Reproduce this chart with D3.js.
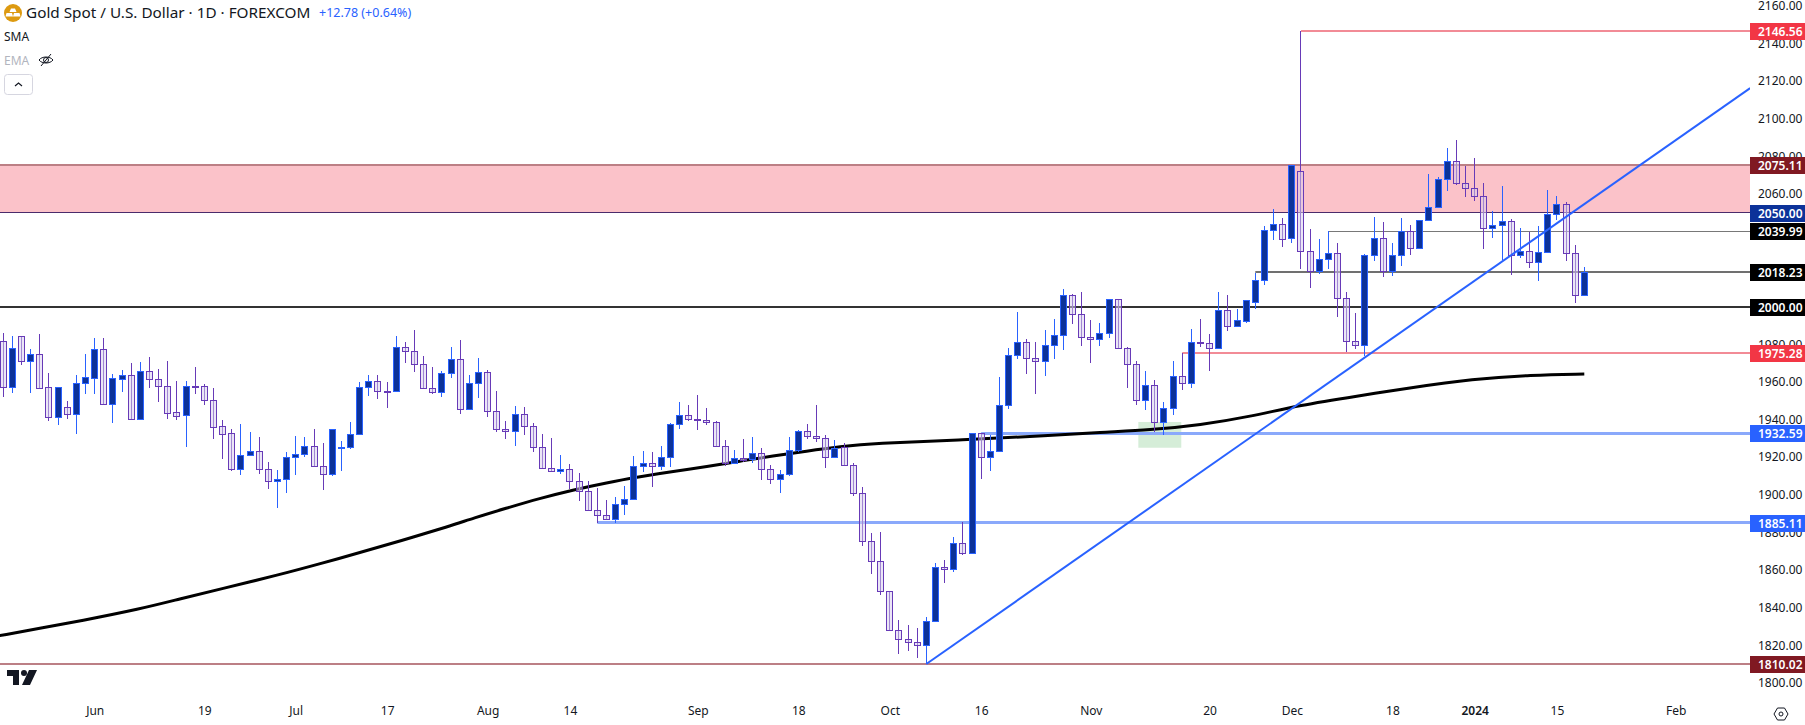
<!DOCTYPE html>
<html>
<head>
<meta charset="utf-8">
<title>Gold Spot / U.S. Dollar</title>
<script src="https://cdn.jsdelivr.net/npm/d3@7"></script>
<style>
html,body{margin:0;padding:0;background:#fff;overflow:hidden}
svg{display:block}
text{font-family:"Noto Sans","Open Sans",sans-serif}
</style>
</head>
<body>
<svg id="chart" width="1805" height="725"></svg>
<script>
const opens = [1981.5,1957.4,1984.2,1971.2,1975.1,1957.1,1941.1,1946.4,1943.1,1959.2,
1962.2,1977.3,1948.0,1961.7,1963.5,1940.1,1965.6,1961.3,1957.6,1943.8,
1942.2,1957.6,1957.6,1950.2,1936.3,1932.6,1913.8,1920.9,1923.1,1913.5,
1907.1,1908.2,1919.9,1921.5,1925.7,1915.1,1910.8,1925.0,1925.2,1932.1,
1957.1,1960.3,1954.9,1954.9,1978.3,1976.2,1969.3,1956.5,1954.4,1964.5,
1972.0,1945.4,1959.2,1965.0,1944.3,1934.7,1933.7,1942.7,1936.3,1925.2,
1914.0,1912.4,1913.5,1907.1,1901.8,1891.7,1889.0,1886.9,1894.9,1897.5,
1915.1,1916.7,1915.1,1919.9,1937.4,1942.2,1940.1,1939.5,1938.5,1925.7,
1916.7,1919.3,1918.8,1922.0,1913.5,1908.2,1910.8,1923.6,1933.7,1931.0,
1930.0,1919.9,1925.2,1915.6,1900.7,1875.2,1864.6,1848.6,1827.9,1823.1,
1821.5,1819.9,1832.7,1861.4,1860.3,1874.1,1868.8,1932.6,1919.9,1923.0,
1947.5,1974.1,1981.0,1972.5,1970.9,1979.4,1984.7,2006.0,1995.9,1983.7,
1982.6,1985.8,2003.9,1977.8,1969.3,1950.2,1958.2,1938.8,1945.9,1962.9,
1959.2,1981.0,1980.5,1977.8,1998.0,1989.5,1992.2,2002.3,2014.0,2040.6,
2043.8,2036.3,2072.0,2029.4,2019.2,2025.2,2028.4,2004.4,1981.6,1979.5,
2027.3,2036.3,2019.2,2027.3,2040.1,2031.0,2045.9,2052.8,2067.7,2077.2,
2065.5,2062.9,2058.6,2041.6,2043.2,2045.3,2027.6,2029.8,2023.9,2028.9,
2049.2,2054.4,2028.3,2006.0];
const highs = [1986.1,1984.4,1984.4,1977.3,1985.4,1964.5,1957.1,1949.6,1963.6,1974.8,
1983.3,1983.3,1964.0,1966.3,1969.8,1970.5,1973.2,1966.8,1971.1,1960.4,
1960.4,1967.9,1958.8,1956.7,1939.7,1934.7,1937.6,1933.3,1930.7,1917.2,
1913.1,1922.5,1931.2,1930.7,1934.9,1927.5,1934.7,1928.5,1938.6,1959.9,
1963.6,1963.6,1959.9,1984.4,1981.2,1987.6,1973.7,1967.9,1965.8,1978.5,
1982.2,1963.6,1972.7,1966.3,1955.1,1939.2,1947.0,1946.6,1938.1,1932.3,
1930.1,1921.1,1916.3,1911.5,1907.1,1903.6,1897.2,1898.8,1904.6,1920.6,
1923.2,1922.5,1925.9,1938.1,1949.3,1947.7,1953.0,1946.1,1939.0,1929.1,
1923.8,1929.6,1930.7,1924.6,1915.8,1913.1,1930.7,1934.4,1937.6,1947.7,
1931.7,1929.1,1927.3,1916.7,1904.1,1879.6,1880.2,1848.6,1833.4,1830.7,
1829.1,1835.0,1863.5,1865.3,1877.5,1885.5,1932.6,1932.6,1931.7,1962.6,
1978.0,1997.1,1982.8,1981.2,1987.6,1993.4,2009.3,2006.7,2007.8,1992.9,
1991.3,2003.9,2003.9,1978.3,1971.1,1965.8,1961.0,1949.3,1971.1,1975.3,
1988.1,1993.4,1985.4,2007.8,2006.2,1998.7,2003.4,2018.1,2042.9,2051.9,
2047.0,2075.1,2146.56,2041.3,2036.0,2040.2,2033.9,2007.8,1996.6,2027.8,
2047.7,2045.0,2033.9,2047.2,2043.4,2045.9,2070.5,2068.8,2084.3,2088.6,
2074.8,2079.0,2065.7,2050.8,2064.1,2046.6,2041.8,2039.9,2042.9,2062.0,
2058.8,2055.6,2032.8,2021.1];
const lows = [1952.1,1954.2,1968.9,1954.2,1956.9,1939.4,1937.0,1940.2,1932.3,1953.5,
1953.5,1948.0,1938.1,1954.6,1940.1,1940.1,1956.7,1949.3,1940.2,1939.7,
1925.4,1953.5,1947.7,1929.6,1919.0,1912.6,1910.5,1920.9,1911.0,1903.0,
1892.9,1900.9,1910.5,1920.0,1915.1,1902.5,1910.1,1912.6,1924.5,1932.1,
1952.5,1950.9,1946.1,1954.9,1970.0,1965.2,1956.5,1953.5,1951.9,1962.0,
1943.1,1945.4,1951.4,1941.3,1933.3,1929.6,1925.9,1931.7,1922.7,1914.0,
1912.4,1911.0,1903.0,1896.6,1891.7,1884.8,1886.9,1885.0,1889.2,1897.5,
1912.1,1904.1,1913.1,1914.7,1934.9,1939.2,1934.4,1937.0,1925.7,1915.3,
1916.7,1917.6,1916.8,1907.8,1905.7,1900.9,1909.9,1922.7,1929.8,1928.0,
1914.2,1919.9,1915.6,1899.5,1872.7,1857.8,1846.7,1827.9,1815.3,1816.9,
1813.2,1810.02,1832.7,1853.0,1858.9,1868.1,1868.8,1908.3,1912.6,1923.0,
1945.5,1972.1,1964.2,1953.5,1963.1,1972.1,1976.9,1990.7,1979.1,1970.0,
1979.1,1983.3,1977.8,1956.7,1947.7,1945.0,1933.3,1931.7,1942.4,1955.7,
1956.7,1978.5,1965.8,1977.8,1987.0,1989.5,1991.3,1998.8,2011.5,2035.5,
2031.7,2033.9,2020.0,2009.9,2017.4,2020.0,1994.5,1975.9,1977.5,1973.8,
2024.3,2015.8,2016.3,2021.6,2027.5,2031.0,2045.9,2052.8,2061.5,2064.8,
2058.3,2056.2,2030.6,2036.5,2024.8,2016.8,2025.9,2020.5,2013.6,2028.9,
2046.1,2024.4,2001.9,2006.0];
const closes = [1957.4,1977.8,1971.2,1975.1,1956.9,1941.1,1957.1,1943.1,1959.2,1962.4,
1977.3,1948.0,1961.9,1963.5,1940.1,1965.6,1961.3,1957.6,1943.6,1942.0,
1957.6,1957.4,1950.2,1936.2,1932.4,1913.8,1920.9,1923.1,1913.5,1907.1,
1908.2,1919.9,1921.5,1925.7,1915.1,1910.8,1934.7,1925.4,1932.1,1957.1,
1960.3,1954.9,1954.8,1978.3,1976.2,1969.3,1956.5,1954.4,1964.5,1972.0,
1945.4,1959.2,1965.0,1944.3,1934.7,1933.7,1942.7,1936.3,1925.2,1914.0,
1912.4,1913.5,1907.1,1901.8,1891.7,1889.0,1886.9,1894.9,1897.5,1915.1,
1916.7,1915.1,1919.9,1937.4,1942.2,1940.1,1939.9,1938.5,1925.7,1916.7,
1919.3,1918.4,1922.0,1913.5,1908.2,1910.8,1923.6,1933.7,1931.0,1930.0,
1919.9,1925.0,1915.6,1900.7,1875.2,1864.6,1848.6,1827.9,1823.1,1821.5,
1819.9,1832.7,1861.4,1860.3,1874.1,1868.8,1932.6,1919.9,1923.0,1947.5,
1974.1,1981.0,1972.5,1970.9,1979.4,1984.7,2006.0,1995.9,1983.7,1982.6,
1985.8,2003.9,1977.8,1969.3,1950.2,1958.2,1938.8,1945.9,1962.9,1959.2,
1981.0,1980.8,1977.8,1998.0,1989.5,1992.7,2003.4,2014.0,2040.6,2043.8,
2036.2,2075.1,2029.4,2019.2,2025.2,2028.4,2004.4,1981.6,1979.5,2027.3,
2036.3,2019.2,2027.3,2040.1,2031.0,2045.9,2052.8,2067.7,2077.2,2065.5,
2062.9,2058.6,2041.6,2043.2,2045.3,2027.6,2029.8,2023.9,2028.9,2049.2,
2054.4,2028.3,2006.0,2018.6];

// 200-day moving average, read at bar positions
const smaBars = [-0.4,4,8.4,15,19.3,23.7,30.3,34.7,39,43.4,48.9,51.4,55,58.7,62.3,66,69.7,73.3,77,80.6,84.2,87.9,91.6,95.2,105,114.5,120,125.5,131,136.4,141.9,148.2,153.9,160.8,167.2,173];
const smaValues = [1825.1,1829.0,1832.9,1839.3,1844.6,1849.8,1857.6,1863.4,1869.2,1875.4,1883.4,1887.5,1892.8,1898.1,1902.5,1906.4,1909.6,1912.4,1915.0,1917.9,1920.6,1923.2,1925.6,1927.4,1929.1,1931.4,1933.2,1934.4,1937.1,1941.5,1947.7,1952.5,1956.8,1961.5,1963.7,1964.2];

const priceTicks = [2160,2140,2120,2100,2080,2060,2040,2020,2000,1980,1960,1940,1920,1900,1880,1860,1840,1820,1800];
const timeTickBars = [10,22,32,42,53,62,76,87,97,107,119,132,141,152,161,170,183];
const timeTickLabels = ["Jun","19","Jul","17","Aug","14","Sep","18","Oct","16","Nov","20","Dec","18","2024","15","Feb"];

const levelValues = [2146.56,2039.99,2018.23,2000,1975.28,1932.59,1885.11,1810.02];
const levelStarts = [142,145,137,-1,129,107,65,-1];
const levelColors = ["#f28b96","#787878","#707070","#333333","#f28b96","#8aa9fb","#8aa9fb","#bc7f85"];
const levelWidths = [2,1,2,2,2,3,3,2];

const zoneTop = 2075.11, zoneBottom = 2050;
const trendBars = [101,191.15], trendValues = [1810.02,2116.2];
const supportBars = [124.2,128.9], supportValues = [1938.7,1925];

const tagValues = [2146.56,2075.11,2050,2039.99,2018.23,2000,1975.28,1932.59,1885.11,1810.02];
const tagColors = ["#f23645","#801922","#0c3299","#000000","#000000","#000000","#f23645","#2962ff","#2962ff","#801922"];

const W = 1805, H = 725, plotW = 1750;
const x = d3.scaleLinear().domain([0,173]).range([3.3,1584.3]);
const y = d3.scaleLinear().domain([1810.02,2146.56]).range([664,31]);
const svg = d3.select("#chart");
svg.append("defs").append("clipPath").attr("id","plot").append("rect").attr("width",plotW).attr("height",H);

const plot = svg.append("g").attr("clip-path","url(#plot)");
const fmt = d3.format(".2f");
const snap = (v,w)=> (w%2 ? Math.round(v-0.5)+0.5 : Math.round(v));

// zone
plot.append("rect").attr("x",0).attr("width",plotW)
  .attr("y",y(zoneTop)).attr("height",y(zoneBottom)-y(zoneTop)).attr("fill","#fbc2c9");
plot.append("line").attr("x1",0).attr("x2",plotW).attr("y1",snap(y(zoneTop),2)).attr("y2",snap(y(zoneTop),2))
  .attr("stroke","#bc7f85").attr("stroke-width",2);
plot.append("line").attr("x1",0).attr("x2",plotW).attr("y1",snap(y(zoneBottom),1)).attr("y2",snap(y(zoneBottom),1))
  .attr("stroke","#4a2a6b").attr("stroke-width",1);

// support box
plot.append("rect").attr("x",x(supportBars[0])).attr("width",x(supportBars[1])-x(supportBars[0]))
  .attr("y",y(supportValues[0])).attr("height",y(supportValues[1])-y(supportValues[0])).attr("fill","#d5edd8");

// levels
plot.append("g").selectAll("line").data(levelValues).join("line")
  .attr("x1",(d,i)=>levelStarts[i]<0?0:x(levelStarts[i])).attr("x2",plotW)
  .attr("y1",(d,i)=>snap(y(d),levelWidths[i])).attr("y2",(d,i)=>snap(y(d),levelWidths[i]))
  .attr("stroke",(d,i)=>levelColors[i]).attr("stroke-width",(d,i)=>levelWidths[i]);

// SMA
plot.append("path").datum(smaBars.map((b,i)=>[b,smaValues[i]]))
  .attr("fill","none").attr("stroke","#000").attr("stroke-width",3).attr("stroke-linejoin","round")
  .attr("d",d3.line().x(d=>x(d[0])).y(d=>y(d[1])).curve(d3.curveBasis));

// candles
const bars = d3.range(opens.length);
const UP = "#2962ff", DOWN = "#673ab7";
plot.append("g").selectAll("g").data(bars).join("g")
  .each(function(i){
    const g = d3.select(this), up = closes[i] >= opens[i];
    const cx = Math.floor(x(i))+0.5;
    const top = Math.round(y(Math.max(opens[i],closes[i])))+0.5;
    const bot = Math.round(y(Math.min(opens[i],closes[i])))+0.5;
    const col = up?UP:DOWN;
    g.append("line").attr("x1",cx).attr("x2",cx)
      .attr("y1",Math.round(y(highs[i]))).attr("y2",Math.round(y(lows[i])))
      .attr("stroke",col).attr("stroke-width",1).attr("shape-rendering","crispEdges");
    if(!up) g.append("path").attr("d",`M${cx-3} ${top}H${cx+3}V${bot}H${cx-3}Z`).attr("fill","#fff");
    g.append("path").attr("d",`M${cx-3} ${top}H${cx+3}V${bot}H${cx-3}Z`)
      .attr("fill",up?"#0c3299":"rgba(103,58,183,0.13)").attr("fill-opacity",1)
      .attr("stroke",col).attr("stroke-width",1).attr("shape-rendering","crispEdges");
    if(!up) g.select("path").attr("fill","#fff").attr("fill-opacity",0.45);
  });

// trend line
plot.append("line").attr("x1",x(trendBars[0])).attr("y1",y(trendValues[0]))
  .attr("x2",x(trendBars[1])).attr("y2",y(trendValues[1]))
  .attr("stroke","#2962ff").attr("stroke-width",2);

// price axis
const axisR = d3.axisRight(y).tickValues(priceTicks).tickFormat(fmt).tickSize(0).tickPadding(0);
const axisG = svg.append("g").attr("transform","translate(1758,0)").call(axisR);
axisG.select(".domain").remove();
axisG.selectAll("text").attr("fill","#131722").style("font-size","12px").style("font-family",'"Noto Sans",sans-serif');

// price tags
const tags = svg.append("g").selectAll("g").data(tagValues).join("g")
  .attr("transform",d=>`translate(${plotW},${Math.round(y(d))})`);
tags.append("rect").attr("x",0).attr("y",-8).attr("width",55).attr("height",17).attr("fill",(d,i)=>tagColors[i]);
tags.append("text").attr("x",8).attr("y",5).attr("fill","#fff").style("font-size","12px").style("font-weight","600").text(fmt);

// time axis
const axisB = d3.axisBottom(x).tickValues(timeTickBars).tickFormat((d,i)=>timeTickLabels[i]).tickSize(0).tickPadding(0);
const axisT = svg.append("g").attr("transform","translate(0,706)").call(axisB);
axisT.select(".domain").remove();
axisT.selectAll("text").attr("fill","#131722").style("font-size","12px").style("font-family",'"Noto Sans",sans-serif')
  .style("font-weight",(d,i)=>timeTickLabels[i]==="2024"?"600":"400");

// header
const head = svg.append("g");
head.append("circle").attr("cx",13).attr("cy",13).attr("r",9).attr("fill","#dd9a10");
head.append("path").attr("d","M11 8.500h4l1.500 3.500h-7zM6.500 13h5.500l1 3.500H5.500zM14 13h5.500l1 3.500H13z").attr("fill","#fff");
head.append("text").attr("x",26).attr("y",18).attr("fill","#131722").style("font-size","15.3px").text("Gold Spot / U.S. Dollar · 1D · FOREXCOM");
head.append("text").attr("x",319).attr("y",17).attr("fill","#2962ff").style("font-size","12.5px").text("+12.78 (+0.64%)");
head.append("text").attr("x",4).attr("y",41).attr("fill","#131722").style("font-size","12px").text("SMA");
head.append("text").attr("x",4).attr("y",65).attr("fill","#b2b5be").style("font-size","12px").text("EMA");
head.append("path").attr("d","M39 60c3-4 11-4 14 0c-3 4-11 4-14 0z").attr("fill","none").attr("stroke","#131722").attr("stroke-width",1);
head.append("circle").attr("cx",46).attr("cy",60).attr("r",2.500).attr("fill","none").attr("stroke","#131722");
head.append("line").attr("x1",41).attr("y1",66).attr("x2",51).attr("y2",54).attr("stroke","#131722");
head.append("rect").attr("x",4.500).attr("y",74.500).attr("width",28).attr("height",20).attr("rx",3).attr("fill","#fff").attr("stroke","#d6d6e0");
head.append("path").attr("d","M15 86l3.500-3l3.500 3").attr("fill","none").attr("stroke","#131722").attr("stroke-width",1.2);

// logo
const logo = svg.append("g").attr("fill","#131722");
logo.append("path").attr("d","M7 670H19V685H13V676H7Z");
logo.append("circle").attr("cx",24).attr("cy",673).attr("r",3);
logo.append("path").attr("d","M29 670H37L30 685H22Z");

// settings
svg.append("path").attr("d","M1774 714l3.500-6h7l3.500 6l-3.500 6h-7z").attr("fill","none").attr("stroke","#131722");
svg.append("circle").attr("cx",1781).attr("cy",714).attr("r",2).attr("fill","none").attr("stroke","#131722");
</script>
</body>
</html>
